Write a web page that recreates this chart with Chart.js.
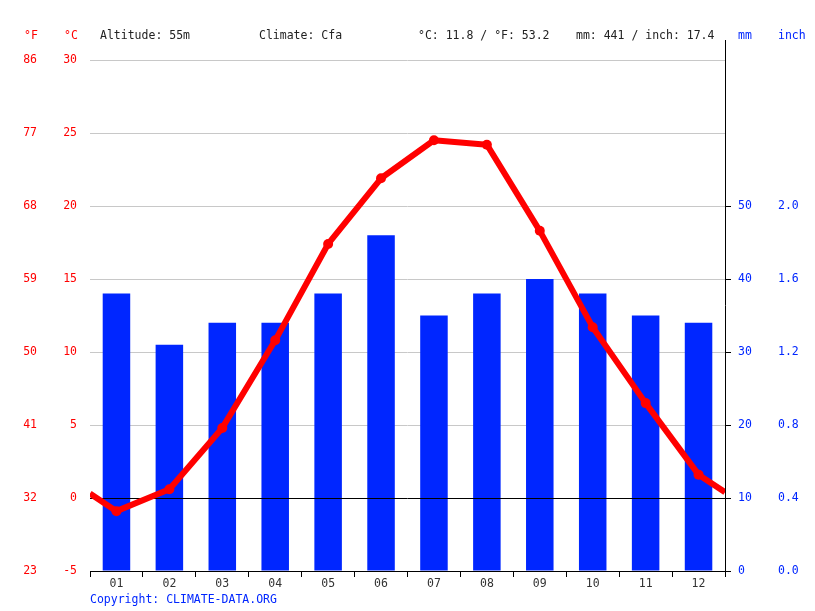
<!DOCTYPE html>
<html><head><meta charset="utf-8">
<script src="https://cdn.jsdelivr.net/npm/chart.js@4/dist/chart.umd.min.js"></script>
<style>html,body{margin:0;padding:0;background:#fff}#w{width:815px;height:611px;position:relative}</style>
</head><body><div id="w"><canvas id="c" width="815" height="611"></canvas></div>
<script>
// ---- data ----
const months = ['01','02','03','04','05','06','07','08','09','10','11','12'];
const precipMm = [38,31,34,34,38,46,35,38,40,38,35,34];
const tempC = [-0.9,0.6,4.8,10.8,17.4,21.9,24.5,24.2,18.3,11.7,6.5,1.6];
const tempEdgeC = [0.3,0.4];          // line values where it meets the plot edges
const ticksF = [23,32,41,50,59,68,77,86];
const ticksC = [-5,0,5,10,15,20,25,30];
const ticksMm = [0,10,20,30,40,50,60,70];
const ticksInch = [0,0.4,0.8,1.2,1.6,2.0,2.4,2.8];
const mmLabelMax = 50, inchLabelMax = 2.0;
const headerTexts = [
  {t:'°F', x:24, c:'#ff0000'}, {t:'°C', x:64, c:'#ff0000'},
  {t:'Altitude: 55m', x:100, c:'#222'}, {t:'Climate: Cfa', x:259, c:'#222'},
  {t:'°C: 11.8 / °F: 53.2', x:418, c:'#222'}, {t:'mm: 441 / inch: 17.4', x:576, c:'#222'},
  {t:'mm', x:738, c:'#0026ff'}, {t:'inch', x:778, c:'#0026ff'}
];
const copyright = 'Copyright: CLIMATE-DATA.ORG';

// ---- build ----
const FONT = "'DejaVu Sans Mono', monospace";
const FSIZE = 11.5;
Chart.defaults.font.family = FONT;
Chart.defaults.font.size = FSIZE;
const RED = '#ff0000', BLUE = '#0026ff';

const linePts = [{x:0.5, y:tempEdgeC[0]}]
  .concat(tempC.map((v,i)=>({x:i+1, y:v})))
  .concat([{x:12.5, y:tempEdgeC[1]}]);

const step = a => a[1]-a[0];

const deco = {
  id:'deco',
  beforeDatasetDraw(chart, args){
    if (args.index !== 1) return;
    const ctx = chart.ctx, a = chart.chartArea;
    const y = Math.round(chart.scales.y.getPixelForValue(0)) + 0.5;
    ctx.save(); ctx.strokeStyle = '#000'; ctx.lineWidth = 1;
    ctx.beginPath(); ctx.moveTo(a.left, y); ctx.lineTo(a.right, y); ctx.stroke();
    ctx.restore();
  },
  afterDraw(chart){
    const ctx = chart.ctx, a = chart.chartArea;
    ctx.save();
    ctx.strokeStyle = '#000'; ctx.lineWidth = 1;
    const x = Math.round(a.right) + 0.5;
    ctx.beginPath(); ctx.moveTo(x, a.top - 20); ctx.lineTo(x, a.bottom); ctx.stroke();
    ctx.font = FSIZE + 'px ' + FONT; ctx.textBaseline = 'middle'; ctx.textAlign = 'left';
    headerTexts.forEach(h => { ctx.fillStyle = h.c; ctx.fillText(h.t, h.x, 36); });
    ctx.fillStyle = BLUE; ctx.fillText(copyright, 90, 600);
    ctx.restore();
  }
};

new Chart(document.getElementById('c'), {
  type:'bar',
  data: {
    labels: months,
    datasets: [
      {type:'bar', data: precipMm, xAxisID:'x', yAxisID:'mm', backgroundColor: BLUE,
       barPercentage:0.52, categoryPercentage:1, grouped:false, order:1},
      {type:'line', data: linePts, xAxisID:'xl', yAxisID:'y', borderColor: RED, borderWidth:6,
       tension:0, borderJoinStyle:'round',
       pointRadius: ctx => (ctx.dataIndex===0 || ctx.dataIndex===linePts.length-1) ? 0 : 5,
       pointBackgroundColor: RED, pointBorderWidth:0, order:0}
    ]
  },
  options: {
    responsive:false, animation:false, devicePixelRatio:1,
    layout:{padding:{top:60, left:0, right:0, bottom:0}},
    plugins:{legend:{display:false}, tooltip:{enabled:false}},
    scales:{
      x:{type:'category', position:'bottom', offset:true,
         grid:{offset:true, drawOnChartArea:false, color:'#000', tickLength:6},
         border:{color:'#000', width:1},
         ticks:{color:'#333', padding:0, maxRotation:0, autoSkip:false},
         afterFit: s => { s.height = 40; }},
      xl:{type:'linear', display:false, offset:false, min:0.5, max:12.5, grid:{offset:false}},
      yF:{type:'linear', position:'left', weight:2, min:ticksF[0], max:ticksF[ticksF.length-1],
         ticks:{stepSize:step(ticksF), color:RED, padding:8},
         grid:{display:false, drawTicks:false}, border:{display:false},
         afterFit: s => { s.width = 45; }},
      y:{type:'linear', position:'left', weight:1, min:ticksC[0], max:ticksC[ticksC.length-1],
         ticks:{stepSize:step(ticksC), color:RED, padding:13},
         grid:{drawTicks:false, color: c => (c.tick && (c.tick.value===0 || c.tick.value===ticksC[0])) ? 'rgba(0,0,0,0)' : '#c8c8c8'},
         border:{display:false},
         afterFit: s => { s.width = 45; }},
      mm:{type:'linear', position:'right', weight:1, min:ticksMm[0], max:ticksMm[ticksMm.length-1],
         ticks:{stepSize:step(ticksMm), color:BLUE, padding:7, callback: v => v<=mmLabelMax ? v : ''},
         grid:{drawOnChartArea:false, tickLength:6, tickColor: c => (c.tick && c.tick.value<=mmLabelMax) ? '#000' : 'rgba(0,0,0,0)'},
         border:{display:false},
         afterFit: s => { s.width = 45; }},
      inch:{type:'linear', position:'right', weight:2, min:ticksInch[0], max:ticksInch[ticksInch.length-1],
         ticks:{stepSize:step(ticksInch), color:BLUE, padding:8, callback: v => v<=inchLabelMax+1e-6 ? v.toFixed(1) : ''},
         grid:{display:false, drawTicks:false}, border:{display:false},
         afterFit: s => { s.width = 45; }}
    }
  },
  plugins:[deco]
});
</script>
</body></html>
